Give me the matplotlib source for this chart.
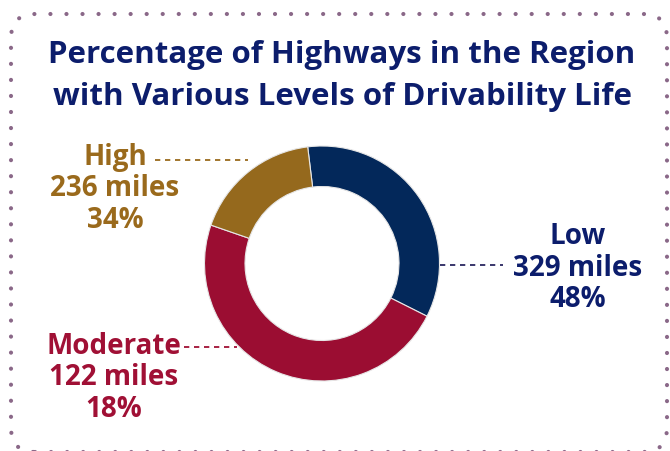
import matplotlib
matplotlib.use("Agg")
import matplotlib.pyplot as plt
from matplotlib.patches import FancyBboxPatch

plt.rcParams['font.family'] = ['Open Sans', 'DejaVu Sans']
plt.rcParams['lines.scale_dashes'] = False

# Data as shown in the picture
levels = ["Low", "Moderate", "High"]
label_miles = [329, 122, 236]
label_pct = [48, 18, 34]
# ring sizes as drawn (navy, crimson, gold wedges)
wedge_miles = [236, 329, 122]

seg_colors = ["#03285a", "#9b0d32", "#95691d"]
text_colors = ["#0c1d6c", "#a01035", "#9a6a1c"]
title = "Percentage of Highways in the Region\nwith Various Levels of Drivability Life"

W, H = 670, 452
fig = plt.figure(figsize=(W / 100, H / 100), dpi=100)
ax = fig.add_axes([0, 0, 1, 1])


def py(y):
    # pixel row (from top) -> data y
    return H - y


# dotted rounded frame
frame = FancyBboxPatch((11, py(453)), 656, 438,
                       boxstyle="round,pad=0,rounding_size=24",
                       facecolor="none", edgecolor="#8a6888",
                       linewidth=3.0, linestyle=(0, (0.05, 11.5)))
frame.set_capstyle("round")
frame.set_clip_on(False)
ax.add_patch(frame)

# donut
wedges, _ = ax.pie(wedge_miles, colors=seg_colors, startangle=97, counterclock=False,
                   center=(322, py(264.5)), radius=117.5,
                   wedgeprops=dict(width=40.5, edgecolor="#e6e6e6", linewidth=0.8))

# title
ax.text(342, py(63), title.split("\n")[0], ha="center", va="baseline",
        fontsize=22.5, fontweight="bold", color="#0c1d6c")
ax.text(342, py(105), title.split("\n")[1], ha="center", va="baseline",
        fontsize=22.5, fontweight="bold", color="#0c1d6c")

# labels: (center x, first baseline) in pixels
label_pos = {"Low": (578, 244), "Moderate": (114, 354), "High": (115, 165)}
leaders = {"Low": ((440, 503), 266), "Moderate": ((184, 237), 348), "High": ((155, 248), 161)}
for i, lev in enumerate(levels):
    x, y0 = label_pos[lev]
    lines = [lev, f"{label_miles[i]} miles", f"{label_pct[i]}%"]
    for k, s in enumerate(lines):
        ax.text(x, py(y0 + k * 31.5), s, ha="center", va="baseline",
                fontsize=20, fontweight="bold", color=text_colors[i])
    (x1, x2), ly = leaders[lev]
    ax.plot([x1, x2], [py(ly), py(ly)], color=text_colors[i] if lev != "Low" else "#2a2660",
            lw=1.3, dashes=[3.8, 3.4])

ax.set_xlim(0, W)
ax.set_ylim(0, H)
ax.set_aspect("equal")
ax.axis("off")

fig.savefig("out.png", dpi=100)
